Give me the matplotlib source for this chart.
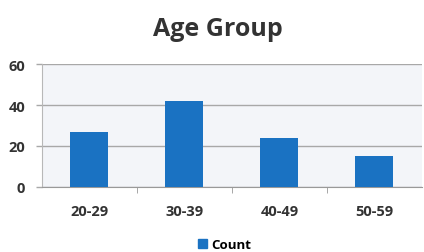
import matplotlib.pyplot as plt
from matplotlib.patches import Patch

plt.rcParams['font.family'] = ['Open Sans', 'DejaVu Sans']

groups = ['20-29', '30-39', '40-49', '50-59']
counts = [27, 42, 24, 15]

fig = plt.figure(figsize=(4.24, 2.53), dpi=100)
ax = fig.add_axes([0.099, 0.257, 0.896, 0.486])
ax.set_facecolor('#f3f5f9')

ax.bar(range(len(groups)), counts, width=0.4, color='#1a72c2', zorder=3)

ax.set_xlim(-0.5, len(groups) - 0.5)
ax.set_ylim(0, 60)
ax.set_yticks([0, 20, 40, 60])
ax.yaxis.grid(True, color='#a8a8a8', lw=1, zorder=1)
ax.set_xticks(range(len(groups)))
ax.set_xticklabels(groups)
ax.set_xticks([0.5, 1.5, 2.5], minor=True)
ax.tick_params(axis='x', which='major', length=0, pad=12, labelsize=10.5, colors='#333333')
ax.tick_params(axis='x', which='minor', length=4, color='#999999')
ax.tick_params(axis='y', length=4, width=1, color='#a8a8a8', pad=8,
               labelsize=10.5, labelcolor='#333333')
for lbl in ax.get_xticklabels() + ax.get_yticklabels():
    lbl.set_fontweight('bold')

for s in ['top', 'right']:
    ax.spines[s].set_visible(False)
ax.spines['left'].set_color('#b8b8b8')
ax.spines['bottom'].set_color('#999999')

fig.text(0.515, 0.885, 'Age Group', ha='center', va='center', fontsize=18,
         fontweight='bold', color='#333333')

fig.legend(handles=[Patch(color='#1a72c2', label='Count')], loc='center',
           bbox_to_anchor=(0.53, 0.03), frameon=False,
           handlelength=0.7, handleheight=0.7, handletextpad=0.3,
           prop={'weight': 'bold', 'size': 9.5})

fig.savefig('out.png', dpi=100)
